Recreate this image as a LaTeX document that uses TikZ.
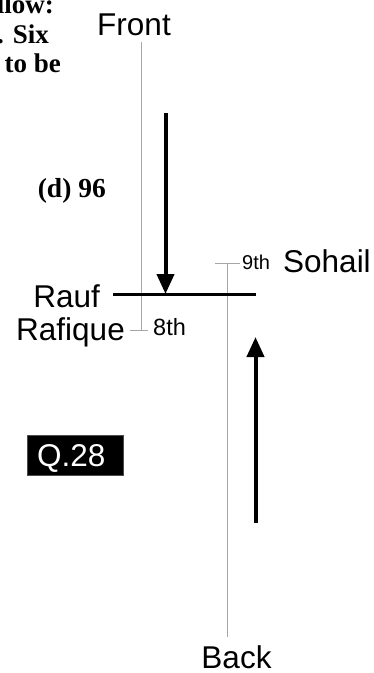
\documentclass[tikz,border=0pt]{standalone}
\usepackage{fontspec}
\setmainfont{Liberation Sans}
\newfontfamily\qserif{Liberation Serif}
\usetikzlibrary{arrows.meta}
\begin{document}
\begin{tikzpicture}[x=1pt,y=-1pt,
  lbl/.style={font=\fontsize{31.5}{36}\selectfont, inner sep=0pt},
  ordsmall/.style={font=\fontsize{20}{24}\selectfont, inner sep=0pt, anchor=base west},
  ordmid/.style={font=\fontsize{23.5}{27}\selectfont, inner sep=0pt, anchor=base west},
  guide/.style={draw=black!35, line width=0.9pt},
  bar/.style={draw=black, line width=3pt},
  move/.style={draw=black, line width=4pt, -{Triangle[width=17pt,length=20pt]}},
  qtext/.style={font=\qserif\bfseries\fontsize{27}{30}\selectfont, inner sep=0pt, anchor=base east},
  qbox/.style={fill=black, draw=black!70, line width=0.6pt, inner sep=0pt},
]
\useasboundingbox (0,0) rectangle (373,673);
\clip (0,0) rectangle (373,673);

% question text running in from the left margin
\node[qtext] (l1) at (54,13) {llow:};
\node[qtext] (l2) at (49,43) {. Six};
\node[qtext] (l3) at (61,72) {to be};
\node[qtext, font=\qserif\bfseries\fontsize{27.5}{30}\selectfont] (ans) at (106,197) {(d) 96};

% end labels
\node[lbl, anchor=base] (front) at (134,35) {Front};
\node[lbl, anchor=base] (back) at (236.5,668) {Back};

% people
\node[lbl, anchor=base east] (rauf) at (100,307) {Rauf};
\node[lbl, anchor=base east] (rafique) at (125,340) {Rafique};
\node[lbl, anchor=base west] (sohail) at (283,272) {Sohail};
\node[ordmid] (eighth) at (153,335) {8th};
\node[ordsmall] (ninth) at (242,269) {9th};

% guide line from the front down to Rafique
\coordinate (g1top) at (141,42);
\coordinate (g1bot) at (141,330);
\coordinate (g1l) at (130,330);
\coordinate (g1r) at (148,330);
\draw[guide] (g1top) -- (g1bot);
\draw[guide] (g1l) -- (g1r);

% guide line from Sohail down to the back
\coordinate (g2top) at (227,263);
\coordinate (g2bot) at (227,637);
\coordinate (g2l) at (215,263);
\coordinate (g2r) at (240,263);
\draw[guide] (g2top) -- (g2bot);
\draw[guide] (g2l) -- (g2r);

% Rauf's bar
\coordinate (barL) at (113,294);
\coordinate (barR) at (256,294);
\draw[bar] (barL) -- (barR);

% counting arrows
\coordinate (downS) at (165.5,113);
\coordinate (downE) at (165.5,294);
\draw[move] (downS) -- (downE);
\coordinate (upS) at (255.5,523);
\coordinate (upE) at (255.5,337);
\draw[move] (upS) -- (upE);

% question tag
\node[qbox, minimum width=96pt, minimum height=40pt] (qb) at (75,455) {};
\node[lbl, text=white, anchor=base west] (qt) at (37,466) {Q.28};
\end{tikzpicture}
\end{document}
